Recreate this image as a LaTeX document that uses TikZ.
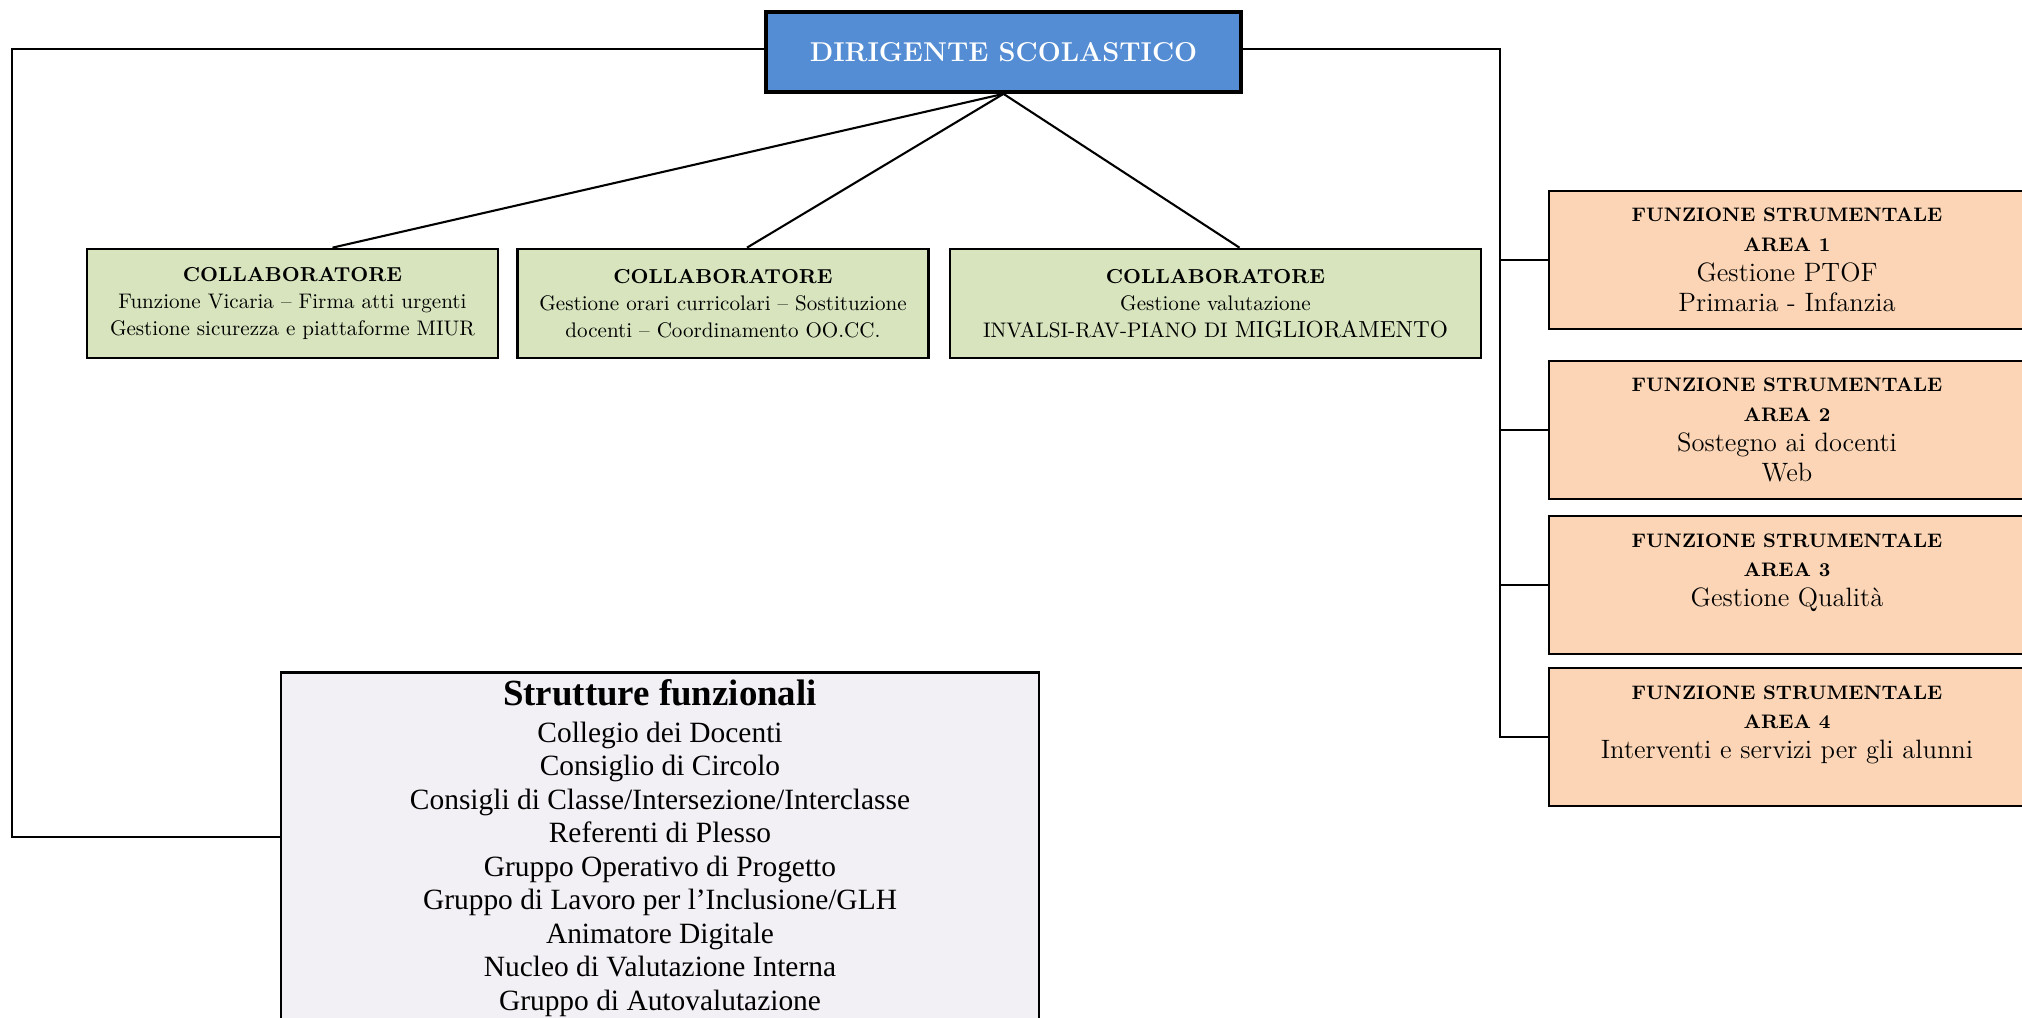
\documentclass[tikz,border=0pt]{standalone}
\usepackage{fontspec}
\newfontfamily\timesfont{Liberation Serif}
\usetikzlibrary{calc}
\definecolor{dsblue}{RGB}{84,141,212}
\definecolor{collgreen}{RGB}{215,228,189}
\definecolor{fspeach}{RGB}{251,213,181}
\definecolor{sflilac}{RGB}{242,240,245}
\newcommand{\colltitle}{\fontsize{9.2}{12.3}\selectfont\bfseries}
\newcommand{\fstitle}{\fontsize{8.9}{13.6}\selectfont\bfseries}

\begin{document}
\begin{tikzpicture}[x=0.016cm,y=-0.016cm,
    conn/.style={line width=0.95pt},
    dsbox/.style={draw,line width=1.7pt,fill=dsblue,text=white,
      font=\fontsize{12.4}{14}\selectfont\bfseries,
      minimum width=7.6cm,minimum height=1.28cm},
    collbox/.style={draw,line width=1.25pt,fill=collgreen,align=center,
      font=\fontsize{9.6}{12.3}\selectfont,minimum height=1.744cm,inner sep=0pt},
    fsbox/.style={draw,line width=1.25pt,fill=fspeach,align=center,
      font=\fontsize{12.1}{13.6}\selectfont,
      minimum width=7.62cm,minimum height=2.21cm,inner sep=0pt},
    sfbox/.style={draw,line width=1.25pt,fill=sflilac,align=center,
      font=\timesfont\fontsize{13.4}{15.25}\selectfont,
      minimum width=12.13cm,minimum height=5.63cm,inner sep=0pt}]
    \useasboundingbox (0,0) rectangle (2022,1017);

    % Head
    \node[dsbox] (ds) at (1003.5,52) {DIRIGENTE SCOLASTICO};

    % Collaboratori
    \node[collbox,minimum width=6.58cm] (c1) at (292.5,303.5)
      {{\colltitle COLLABORATORE}\\
       Funzione Vicaria -- Firma atti urgenti\\
       Gestione sicurezza e piattaforme MIUR};
    \node[collbox,minimum width=6.59cm] (c2) at (723,303.5)
      {{\colltitle COLLABORATORE}\\
       Gestione orari curricolari -- Sostituzione\\
       docenti -- Coordinamento OO.CC.};
    \node[collbox,minimum width=8.5cm] (c3) at (1215.5,303.5)
      {{\colltitle COLLABORATORE}\\
       Gestione valutazione\\
       INVALSI-RAV-PIANO DI {\fontsize{10.6}{12.3}\selectfont MIGLIORAMENTO}};

    % Funzioni strumentali
    \node[fsbox] (f1) at (1787,260)
      {{\fstitle FUNZIONE STRUMENTALE}\\ {\fstitle AREA 1}\\
       Gestione PTOF\\ Primaria - Infanzia};
    \node[fsbox] (f2) at (1787,430)
      {{\fstitle FUNZIONE STRUMENTALE}\\ {\fstitle AREA 2}\\
       Sostegno ai docenti\\ Web};
    \node[fsbox] (f3) at (1787,585)
      {{\fstitle FUNZIONE STRUMENTALE}\\ {\fstitle AREA 3}\\
       Gestione Qualità\\ \mbox{}};
    \node[fsbox] (f4) at (1787,737)
      {{\fstitle FUNZIONE STRUMENTALE}\\ {\fstitle AREA 4}\\
       Interventi e servizi per gli alunni\\ \mbox{}};

    % Strutture funzionali
    \node[sfbox] (sf) at (660,848)
      {{\fontsize{16.8}{19.2}\selectfont\bfseries Strutture funzionali}\\[1.6pt]
       Collegio dei Docenti\\
       Consiglio di Circolo\\
       Consigli di Classe/Intersezione/Interclasse\\
       Referenti di Plesso\\
       Gruppo Operativo di Progetto\\
       Gruppo di Lavoro per l’Inclusione/GLH\\
       Animatore Digitale\\
       Nucleo di Valutazione Interna\\
       Gruppo di Autovalutazione};

    % Connectors
    \coordinate (lft) at (12,0);
    \coordinate (bus) at (1500,0);
    \coordinate (sfin) at ([yshift=0.176cm]sf.west);
    \draw[conn] (ds.south) -- ([xshift=0.64cm]c1.north);
    \draw[conn] (ds.south) -- ([xshift=0.384cm]c2.north);
    \draw[conn] (ds.south) -- ([xshift=0.384cm]c3.north);
    \draw[conn] ([yshift=0.048cm]ds.west) -| (lft |- sfin) -- (sfin);
    \draw[conn] ([yshift=0.048cm]ds.east) -| (bus |- f4.west) -- (f4.west);
    \foreach \i in {1,2,3}
      \draw[conn] (bus |- f\i.west) -- (f\i.west);
\end{tikzpicture}
\end{document}
